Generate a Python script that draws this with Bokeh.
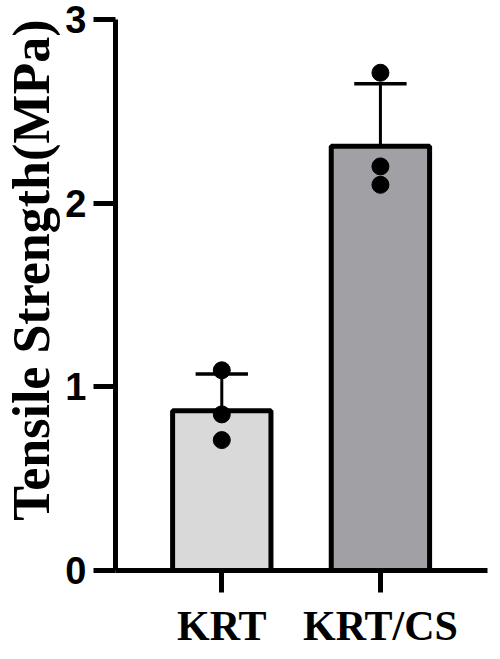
from bokeh.plotting import figure
from bokeh.models import Range1d, FixedTicker, ColumnDataSource, Title
from bokeh.embed import file_html
from bokeh.resources import INLINE

# ---- data ----
categories = ["KRT", "KRT/CS"]
means = [0.87, 2.31]
sds = [0.20, 0.34]
points_krt = [1.09, 0.85, 0.71]
points_krtcs = [2.71, 2.20, 2.10]
bar_colors = ["#d9d9d9", "#a1a1a5"]
y_ticks = [0, 1, 2, 3]
y_label = "Tensile Strength(MPa)"

xs = list(range(len(categories)))

p = figure(width=492, height=651, output_backend="svg", toolbar_location=None,
           x_range=Range1d(-0.67, 1.675), y_range=Range1d(0, 3),
           min_border_left=115, min_border_right=5, min_border_top=19,
           min_border_bottom=78)
p.outline_line_color = None
p.xgrid.visible = False
p.ygrid.visible = False
p.background_fill_color = "white"
p.border_fill_color = "white"

src = ColumnDataSource(dict(x=xs, top=means, color=bar_colors))
p.vbar(x="x", top="top", bottom=0, width=0.62, source=src, fill_color="color",
       line_color="black", line_width=5)

# error bars (upper only)
upper = [m + s for m, s in zip(means, sds)]
p.segment(x0=xs, y0=means, x1=xs, y1=upper, line_color="black", line_width=3)
cap = 0.165
p.segment(x0=[x - cap for x in xs], y0=upper, x1=[x + cap for x in xs], y1=upper,
          line_color="black", line_width=3.5)

# individual points
pts_x = [xs[0]] * len(points_krt) + [xs[1]] * len(points_krtcs)
pts_y = points_krt + points_krtcs
p.scatter(pts_x, pts_y, size=17, fill_color="black", line_color="black")

# axes
for ax in (p.xaxis, p.yaxis):
    ax.axis_line_width = 5
    ax.axis_line_color = "black"
    ax.major_tick_line_width = 5
    ax.major_tick_line_color = "black"
    ax.major_tick_out = 22
    ax.major_tick_in = 0
    ax.minor_tick_line_color = None
    ax.major_label_text_color = "black"

p.yaxis.ticker = FixedTicker(ticks=y_ticks)
p.yaxis.major_label_text_font = "Liberation Sans"
p.yaxis.major_label_text_font_style = "bold"
p.yaxis.major_label_text_font_size = "38px"
p.yaxis.major_label_standoff = 7

p.xaxis.ticker = FixedTicker(ticks=xs)
p.xaxis.major_label_overrides = {i: c for i, c in zip(xs, categories)}
p.xaxis.major_label_text_font = "Liberation Serif"
p.xaxis.major_label_text_font_style = "bold"
p.xaxis.major_label_text_font_size = "42px"
p.xaxis.major_label_standoff = 10

t = Title(text=y_label, align="right", offset=0, standoff=2,
          vertical_align="top",
          text_font="Liberation Serif", text_font_style="bold",
          text_font_size="52px", text_color="black")
p.add_layout(t, "left")

open("out.html", "w").write(file_html(p, INLINE))
